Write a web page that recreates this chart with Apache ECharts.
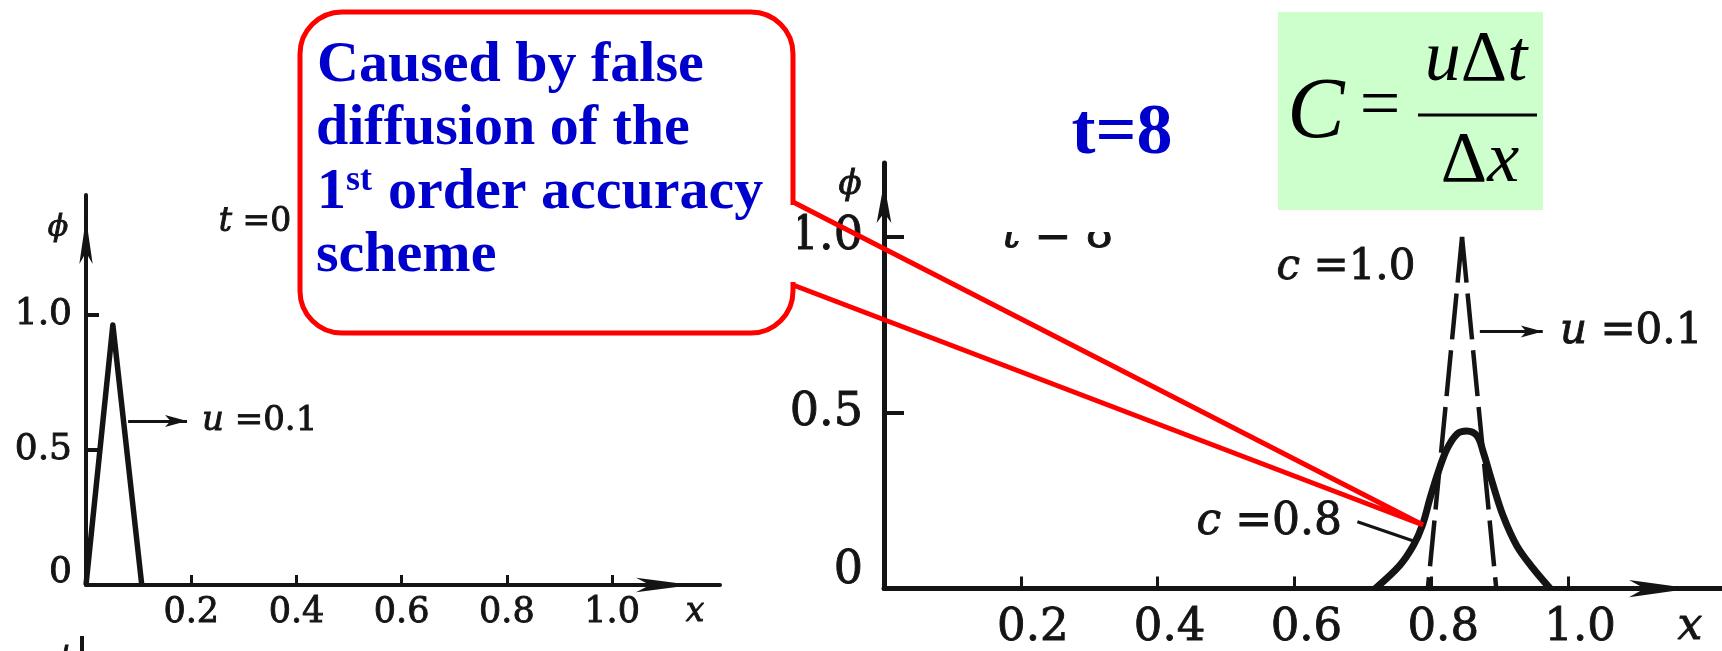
<!DOCTYPE html>
<html>
<head>
<meta charset="utf-8">
<title>Upwind scheme: false diffusion</title>
<script src="https://cdn.jsdelivr.net/npm/echarts@6/dist/echarts.min.js"></script>
<style>
  html, body { margin: 0; padding: 0; background: #ffffff; }
  #chart { width: 1722px; height: 651px; }
</style>
</head>
<body>
<div id="chart"></div>
<script>
// ---- data -------------------------------------------------------------
// t = 0 : initial triangular pulse
const xInitial = [0, 0.051, 0.106];
const phiInitial = [0, 0.963, 0];

// t = 8, c = 1.0 : pulse carried without distortion (dashed), drawn from the peak outwards
const xExactLeft = [0.845, 0.795];
const phiExactLeft = [1.0, 0];
const xExactRight = [0.845, 0.895];
const phiExactRight = [1.0, 0];

// t = 8, c = 0.8 : smeared pulse of the first-order upwind scheme (solid)
const xUpwind = [0.718, 0.754, 0.774, 0.787, 0.798, 0.810, 0.823, 0.838, 0.852, 0.867, 0.876, 0.889, 0.905, 0.925, 0.949, 0.974];
const phiUpwind = [0, 0.066, 0.123, 0.180, 0.255, 0.330, 0.397, 0.440, 0.448, 0.434, 0.388, 0.303, 0.207, 0.122, 0.057, 0];

// axis ticks
const xTickValues = [0.2, 0.4, 0.6, 0.8, 1.0];
const phiTickValues = [0.5, 1.0];
const phiLabelValues = [0, 0.5, 1.0];

// leader lines (from, to) in data units
const arrowLeft = [[0.080, 0.607], [0.192, 0.607]];
const arrowRight = [[0.871, 0.731], [0.963, 0.731]];
const leaderC08 = [[0.692, 0.190], [0.773, 0.136]];

// ---- helpers ----------------------------------------------------------
const zip = (xs, ys) => xs.map((x, i) => [x, ys[i]]);
const INK = '#141414';
const SCAN_FONT = 'DejaVu Serif';
const BLUE = '#0000CC';
const HEAVY = 0.9;   // extra stroke so the serif text reads as heavy as printed type

function xAxisCfg(grid, max, fontSize, margin, lineW, tickLen, arrow, padLeft) {
  return {
    gridIndex: grid, type: 'value', min: 0, max: max,
    axisLine: {
      show: true, onZero: false,
      lineStyle: { color: INK, width: lineW },
      symbol: ['none', 'arrow'], symbolSize: arrow, symbolOffset: [0, -arrow[1] / 2]
    },
    axisTick: { show: true, inside: true, length: tickLen, customValues: xTickValues,
                lineStyle: { color: INK, width: 3 } },
    axisLabel: {
      show: true, customValues: xTickValues, margin: margin,
      fontFamily: SCAN_FONT, fontSize: fontSize, color: INK,
      textBorderColor: INK, textBorderWidth: HEAVY,
      padding: [0, 0, 0, padLeft],
      formatter: v => v.toFixed(1)
    },
    splitLine: { show: false }
  };
}

function yAxisCfg(grid, max, fontSize, margin, lineW, tickLen, arrow, zeroLift) {
  return {
    gridIndex: grid, type: 'value', min: 0, max: max,
    axisLine: {
      show: true, onZero: false,
      lineStyle: { color: INK, width: lineW },
      symbol: ['none', 'arrow'], symbolSize: arrow, symbolOffset: [0, -arrow[1] / 2]
    },
    axisTick: { show: true, inside: true, length: tickLen, customValues: phiTickValues,
                lineStyle: { color: INK, width: 4 } },
    axisLabel: {
      show: true, customValues: phiLabelValues, margin: margin,
      fontFamily: SCAN_FONT, fontSize: fontSize, color: INK,
      textBorderColor: INK, textBorderWidth: HEAVY,
      formatter: v => (v === 0 ? '{z|0}' : v.toFixed(1)),
      rich: { z: { fontFamily: SCAN_FONT, fontSize: fontSize, color: INK,
                   textBorderColor: INK, textBorderWidth: HEAVY,
                   padding: [0, 0, zeroLift, 0] } }
    },
    splitLine: { show: false }
  };
}

function leader(pair, withArrow) {
  return {
    silent: true, animation: false,
    symbol: withArrow ? ['none', 'arrow'] : ['none', 'none'],
    symbolSize: [9, 22],
    label: { show: false },
    emphasis: { disabled: true },
    lineStyle: { type: 'solid', color: INK, width: 3 },
    data: [[{ coord: pair[0] }, { coord: pair[1] }]]
  };
}

function txt(text, x, y, font, align, fill, z, heavy) {
  return {
    type: 'text', z: z || 10, silent: true,
    style: { text: text, x: x, y: y, font: font, fill: fill || INK,
             stroke: heavy ? (fill || INK) : null, lineWidth: heavy || 0,
             align: align || 'center', verticalAlign: 'middle',
             textAlign: align || 'center', textVerticalAlign: 'middle' }
  };
}

function rich(parts, x, y, size, align, fill, z, heavy) {
  // parts: [[string, italic?, family?], ...]
  const text = parts.map((p, i) => '{s' + i + '|' + p[0] + '}').join('');
  const r = {};
  parts.forEach((p, i) => {
    r['s' + i] = { font: (p[1] ? 'italic ' : '') + size + 'px "' + (p[2] || SCAN_FONT) + '"',
                   fill: fill || INK,
                   stroke: heavy ? (fill || INK) : null, lineWidth: heavy || 0 };
  });
  return {
    type: 'text', z: z || 10, silent: true,
    style: { text: text, rich: r, x: x, y: y, fill: fill || INK,
             font: size + 'px "' + SCAN_FONT + '"',
             align: align || 'left', verticalAlign: 'middle',
             textAlign: align || 'left', textVerticalAlign: 'middle' }
  };
}

// ---- chart ------------------------------------------------------------
const chart = echarts.init(document.getElementById('chart'), null, { renderer: 'canvas' });

const calloutFont = 'bold 58px "Liberation Serif"';
const graphics = [
  // left panel annotations
  txt('\u03D5', 58, 228, 'italic 30px "' + SCAN_FONT + '"', 'center', INK, 10, HEAVY),
  rich([['t', true], [' =0', false]], 255, 222, 33, 'center', INK, 10, HEAVY),
  rich([['u', true], [' =0.1', false]], 202, 421, 34, 'left', INK, 10, HEAVY),
  txt('x', 695, 612, 'italic 33px "' + SCAN_FONT + '"', 'center', INK, 10, HEAVY),
  // top of the next panel, cut off at the bottom edge
  txt('\u03D5', 64, 660, 'italic 30px "' + SCAN_FONT + '"', 'center', INK, 10, HEAVY),
  { type: 'line', z: 10, silent: true, shape: { x1: 82, y1: 636, x2: 82, y2: 651 },
    style: { stroke: INK, lineWidth: 4 } },

  // right panel annotations
  txt('\u03D5', 850, 185, 'italic 34px "' + SCAN_FONT + '"', 'center', INK, 10, HEAVY),
  rich([['c', true], [' =1.0', false]], 1346, 268, 42, 'center', INK, 10, HEAVY),
  rich([['u', true], [' =0.1', false]], 1560, 332, 42, 'left', INK, 10, HEAVY),
  rich([['c', true], [' =0.8', false]], 1342, 523, 44, 'right', INK, 10, HEAVY),
  txt('x', 1690, 628, 'italic 44px "' + SCAN_FONT + '"', 'center', INK, 10, HEAVY),
  // partly hidden original time label
  rich([['t', true], [' = 8', false]], 1058, 236, 44, 'center', INK, 10, HEAVY),
  { type: 'rect', z: 11, silent: true, shape: { x: 980, y: 150, width: 160, height: 82 },
    style: { fill: '#ffffff' } },

  // callout
  { type: 'rect', z: 100, silent: true, shape: { x: 300, y: 12, width: 493, height: 321, r: 42 },
    style: { fill: '#ffffff', stroke: '#FF0000', lineWidth: 5 } },
  { type: 'rect', z: 101, silent: true, shape: { x: 788, y: 205, width: 10, height: 77 },
    style: { fill: '#ffffff' } },
  { type: 'polyline', z: 102, silent: true, shape: { points: [[793, 202], [1423, 525], [793, 285]] },
    style: { stroke: '#FF0000', lineWidth: 5, fill: null, lineJoin: 'miter' } },
  txt('Caused by false', 317, 66, calloutFont, 'left', BLUE, 103),
  txt('diffusion of the', 316, 129, calloutFont, 'left', BLUE, 103),
  txt('1', 317, 193, calloutFont, 'left', BLUE, 103),
  txt('st', 346, 181, 'bold 36px "Liberation Serif"', 'left', BLUE, 103),
  txt('order accuracy', 388, 193, calloutFont, 'left', BLUE, 103),
  txt('scheme', 316, 256, calloutFont, 'left', BLUE, 103),

  // time label
  txt('t=8', 1122, 134, 'bold 72px "Liberation Serif"', 'center', BLUE, 103),

  // Courant number box
  { type: 'rect', z: 100, silent: true, shape: { x: 1278, y: 12, width: 265, height: 198 },
    style: { fill: '#CCFFCC' } },
  rich([['C', true, 'Liberation Serif']], 1316, 114, 86, 'center', '#000000', 101),
  rich([['=', false, 'Liberation Serif']], 1380, 108, 72, 'center', '#000000', 101),
  rich([['u', true, 'Liberation Serif'], ['\u0394', false, 'Liberation Serif'], ['t', true, 'Liberation Serif']], 1476, 61, 72, 'center', '#000000', 101),
  { type: 'line', z: 101, silent: true, shape: { x1: 1418, y1: 115, x2: 1537, y2: 115 },
    style: { stroke: '#000000', lineWidth: 3 } },
  rich([['\u0394', false, 'Liberation Serif'], ['x', true, 'Liberation Serif']], 1480, 162, 72, 'center', '#000000', 101)
];

const option = {
  animation: false,
  backgroundColor: '#ffffff',
  grid: [
    { left: 86, top: 195, width: 634, height: 390, containLabel: false },
    { left: 884, top: 163, width: 838, height: 427, containLabel: false }
  ],
  xAxis: [
    xAxisCfg(0, 1.205, 35, 10, 4, 10, [11, 56], 0),
    xAxisCfg(1, 1.225, 45, 17, 5, 12, [13, 62], 24)
  ],
  yAxis: [
    yAxisCfg(0, 1.444, 36, 14, 4, 13, [10, 46], 24),
    yAxisCfg(1, 1.21, 46, 21, 5, 20, [11, 40], 36)
  ],
  series: [
    {
      name: 't=0', type: 'line', xAxisIndex: 0, yAxisIndex: 0,
      data: zip(xInitial, phiInitial), showSymbol: false, silent: true,
      lineStyle: { color: INK, width: 5.5, join: 'round' },
      markLine: leader(arrowLeft, true)
    },
    {
      name: 'c=1.0 left', type: 'line', xAxisIndex: 1, yAxisIndex: 1,
      data: zip(xExactLeft, phiExactLeft), showSymbol: false, silent: true,
      lineStyle: { color: INK, width: 4.5, type: [46, 11] }
    },
    {
      name: 'c=1.0 right', type: 'line', xAxisIndex: 1, yAxisIndex: 1,
      data: zip(xExactRight, phiExactRight), showSymbol: false, silent: true,
      lineStyle: { color: INK, width: 4.5, type: [46, 11] },
      markLine: leader(arrowRight, true)
    },
    {
      name: 'c=0.8', type: 'line', xAxisIndex: 1, yAxisIndex: 1,
      data: zip(xUpwind, phiUpwind), showSymbol: false, silent: true, smooth: 0.35,
      lineStyle: { color: INK, width: 7 },
      markLine: leader(leaderC08, false)
    }
  ],
  graphic: graphics
};

chart.setOption(option);
</script>
</body>
</html>
